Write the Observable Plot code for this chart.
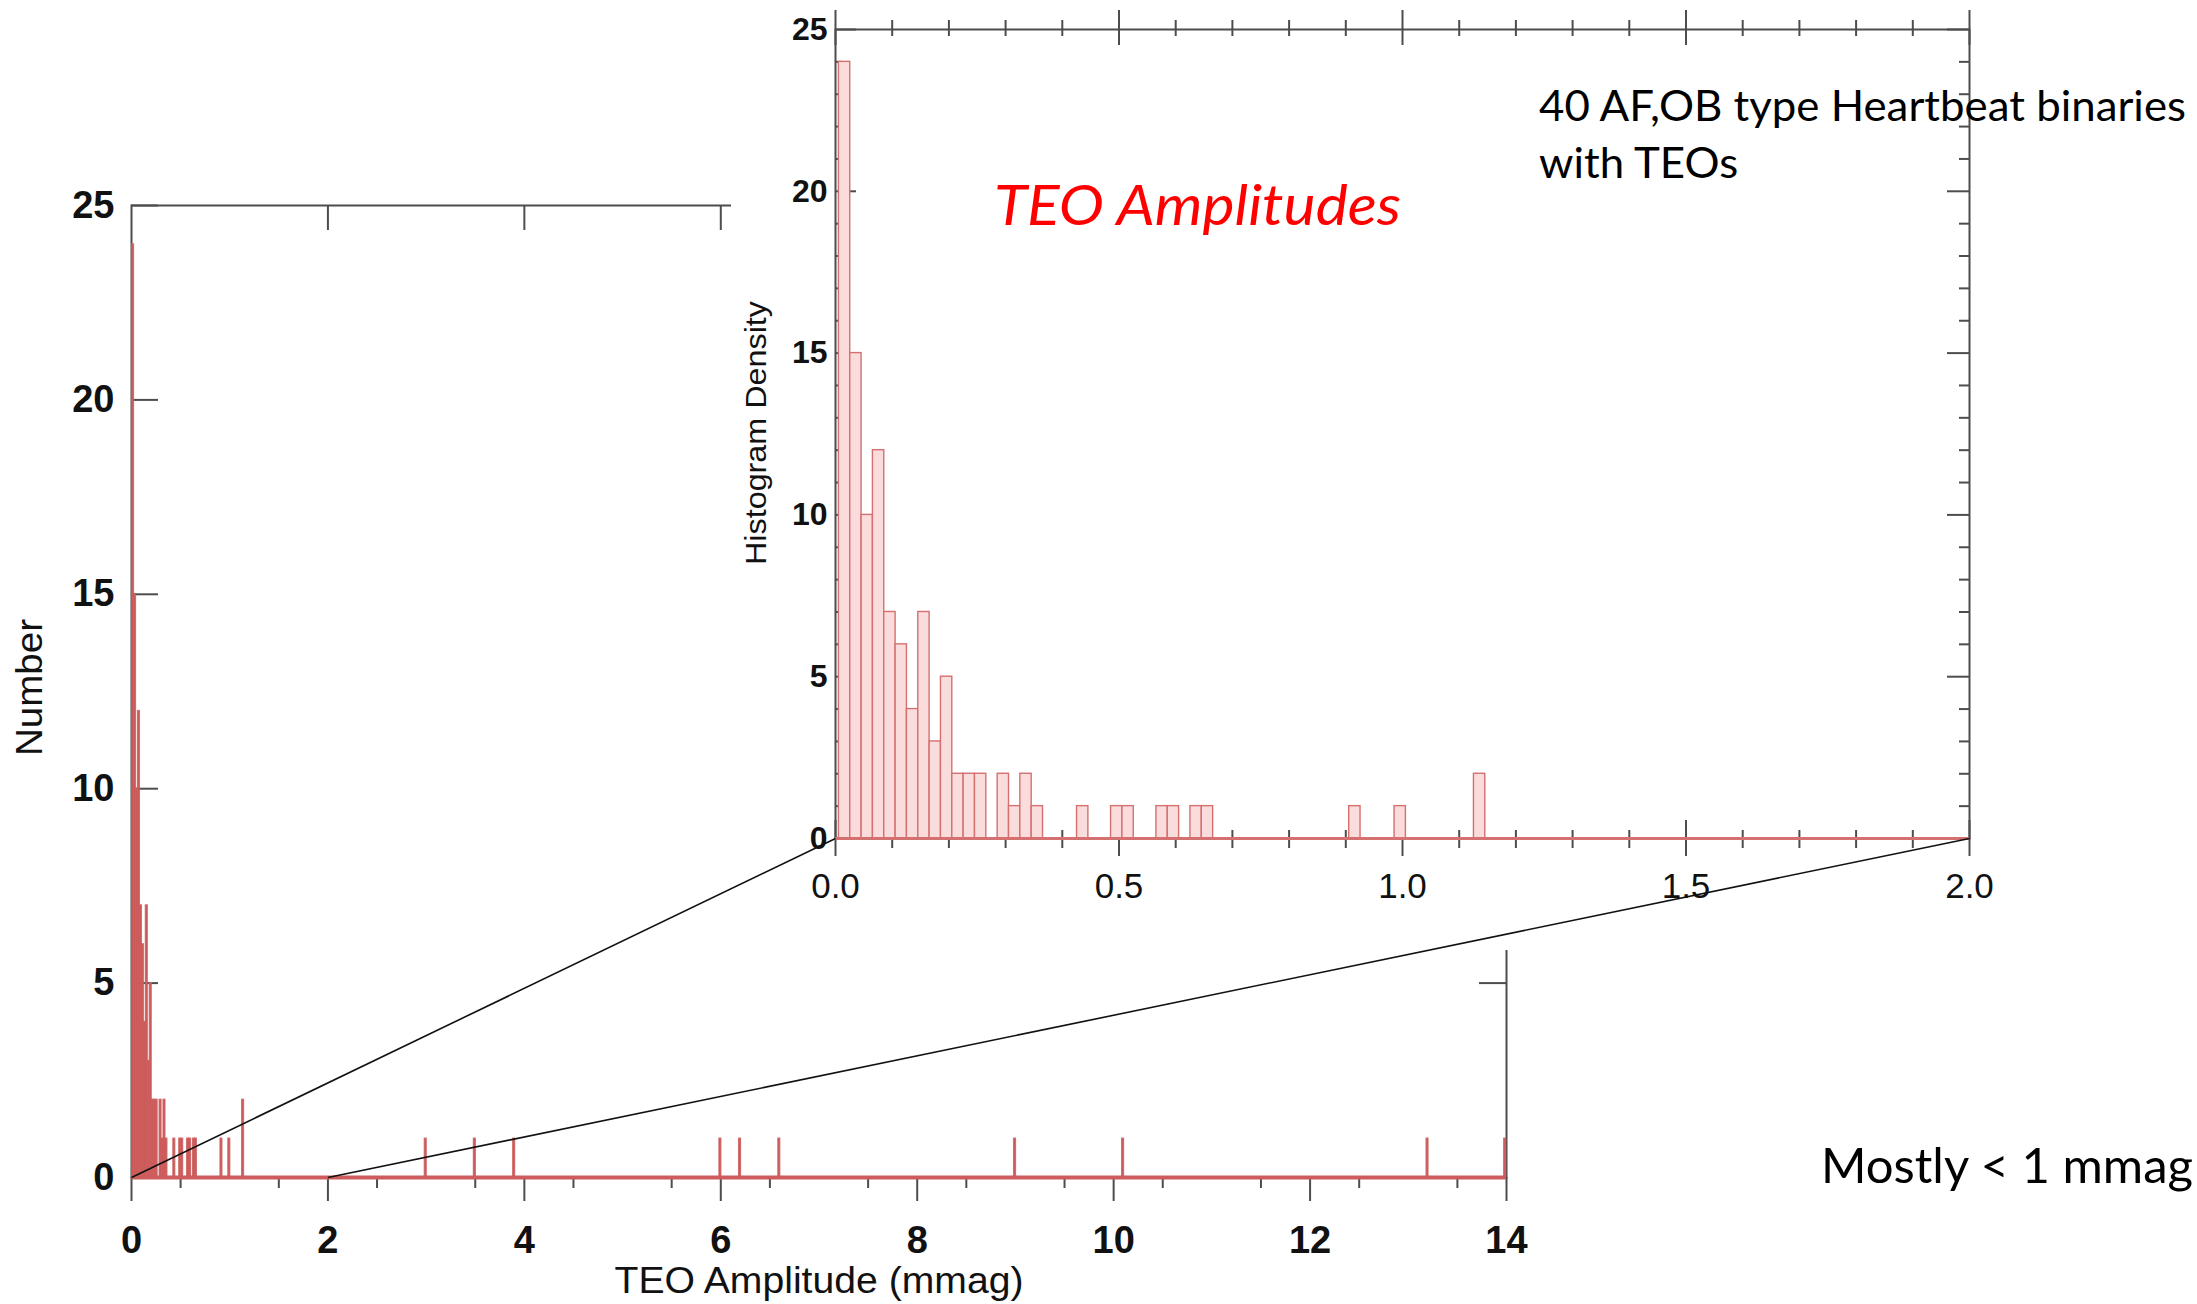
<!DOCTYPE html>
<html>
<head>
<meta charset="utf-8">
<script src="https://cdn.jsdelivr.net/npm/d3@7"></script>
<script src="https://cdn.jsdelivr.net/npm/@observablehq/plot@0.6"></script>
<style>
  html, body { margin: 0; padding: 0; background: #fff; }
  #figure { position: relative; width: 2197px; height: 1304px; overflow: hidden; background: #fff; }
  #figure > svg { position: absolute; }
  .note { position: absolute; white-space: nowrap; line-height: 1; font-family: Lato, "Open Sans", sans-serif; color: #000; transform-origin: 0 0; }
</style>
</head>
<body>
<div id="figure"></div>
<script>
// TEO amplitude histogram: number of TEOs per 0.02 mmag bin (left bin edges, mmag)
const binWidth = 0.02;
const binLeft = [
  0.006, 0.026, 0.046, 0.066, 0.086, 0.106, 0.126, 0.146, 0.166, 0.186,
  0.206, 0.226, 0.246, 0.286, 0.306, 0.326, 0.346, 0.426, 0.486, 0.506,
  0.566, 0.586, 0.626, 0.646, 0.906, 0.986, 1.126,
  2.986, 3.486, 3.886, 5.986, 6.186, 6.586, 8.986, 10.086, 13.186, 13.976
];
const binCount = [
  24, 15, 10, 12, 7, 6, 4, 7, 3, 5,
  2, 2, 2, 2, 1, 2, 1, 1, 1, 1,
  1, 1, 1, 1, 1, 1, 2,
  1, 1, 1, 1, 1, 1, 1, 1, 1, 1
];

// Axis domains and tick labels
const fullDomain = [0, 14];
const zoomDomain = [0, 2];
const countDomain = [0, 25];
const mainXTicks = [0, 2, 4, 6, 8, 10, 12, 14];
const mainYTicks = [0, 5, 10, 15, 20, 25];
const zoomXTicks = [0, 0.5, 1, 1.5, 2];
const zoomYTicks = [0, 5, 10, 15, 20, 25];

const bins = binLeft.map((x1, i) => ({x1, x2: x1 + binWidth, count: binCount[i]}));
const zoomBins = bins.filter(d => d.x1 < zoomDomain[1]);

// ---- layout (pixels) ----
const W = 2197, H = 1304;
const MAIN = {left: 131, right: 1506, top: 205, bottom: 1177};
const BOX = {left: 731, top: 0, width: W - 731, height: 950};   // zoom panel backdrop
const ZOOM = {left: 835, right: 1969, top: 29, bottom: 838};     // zoom panel frame

const AXIS = "#4d4d4d";
const RED = "#cd5c5c";
const PINK = "#fbdcdc";
const PINK_EDGE = "#d4706f";
const FONT = "'Liberation Sans', Arial, Helvetica, sans-serif";

const figure = document.getElementById("figure");

// tick helpers: lengths measured inward (into the frame) and outward
function xTicks(values, frameH, edge, inner, outer, extra = {}) {
  const inset = edge === "bottom"
    ? {insetTop: frameH - inner, insetBottom: -outer}
    : {insetTop: -outer, insetBottom: frameH - inner};
  return Plot.tickX(values, {x: d => d, stroke: AXIS, strokeWidth: 2, ...inset, ...extra});
}
function yTicks(values, frameW, edge, inner, outer, extra = {}) {
  const inset = edge === "left"
    ? {insetLeft: -outer, insetRight: frameW - inner}
    : {insetLeft: frameW - inner, insetRight: -outer};
  return Plot.tickY(values, {y: d => d, stroke: AXIS, strokeWidth: 2, ...inset, ...extra});
}
function stretchText(svg, content, length) {
  d3.select(svg).selectAll("text")
    .filter(function () { return this.textContent === content; })
    .attr("textLength", length)
    .attr("lengthAdjust", "spacingAndGlyphs");
}
function scaleOf(chart, name) {
  const s = chart.scale(name);
  return d3.scaleLinear(s.domain, s.range);
}

// vertical axis titles are start-anchored, so they are shifted down by half their length
const NUMBER_LEN = 137, DENSITY_LEN = 264;

// ---- main histogram, 0–14 mmag ----
const mainW = MAIN.right - MAIN.left, mainH = MAIN.bottom - MAIN.top;
const mainMinor = d3.range(0.5, 14, 1);
const main = Plot.plot({
  width: W, height: H,
  marginLeft: MAIN.left, marginRight: W - MAIN.right,
  marginTop: MAIN.top, marginBottom: H - MAIN.bottom,
  x: {domain: fullDomain, axis: null},
  y: {domain: countDomain, axis: null},
  style: {background: "transparent", fontFamily: FONT, color: "#000", overflow: "visible"},
  marks: [
    Plot.frame({stroke: AXIS, strokeWidth: 2}),
    xTicks(mainXTicks, mainH, "bottom", 0, 24),
    xTicks(mainMinor, mainH, "bottom", 0, 11),
    xTicks(mainXTicks.slice(1, -1), mainH, "top", 25, 0),
    yTicks(mainYTicks.slice(1), mainW, "left", 27, 0),
    yTicks(mainYTicks.slice(1), mainW, "right", 27, 0),
    Plot.rectY(bins, {x1: "x1", x2: "x2", y: "count", fill: RED, stroke: RED, strokeWidth: 1.2, strokeOpacity: 0.8}),
    Plot.ruleY([0], {stroke: RED, strokeWidth: 4}),
    Plot.text(mainXTicks, {x: d => d, text: d => String(d), frameAnchor: "bottom", dy: 63,
      lineAnchor: "middle", fontSize: 38, fontWeight: "bold", fill: "#111"}),
    Plot.text(mainYTicks, {y: d => d, text: d => String(d), frameAnchor: "left", dx: -17,
      textAnchor: "end", lineAnchor: "middle", fontSize: 38, fontWeight: "bold", fill: "#111"}),
    Plot.text(["TEO Amplitude (mmag)"], {text: d => d, frameAnchor: "bottom", dy: 104,
      lineAnchor: "middle", fontSize: 37, fill: "#111"}),
    Plot.text(["Number"], {text: d => d, frameAnchor: "left", dx: -101, dy: NUMBER_LEN / 2 - 4, rotate: -90,
      textAnchor: "start", lineAnchor: "middle", fontSize: 37, fill: "#111"})
  ]
});
main.style.left = "0px"; main.style.top = "0px";
stretchText(main, "TEO Amplitude (mmag)", 409);
stretchText(main, "Number", NUMBER_LEN);
figure.appendChild(main);

// ---- zoomed histogram, 0–2 mmag ----
const zW = ZOOM.right - ZOOM.left, zH = ZOOM.bottom - ZOOM.top;
const zoomMinorX = d3.range(0.1, 2, 0.1).filter((d, i) => (i + 1) % 5 !== 0);
const zoomMinorY = d3.range(1, 25, 1).filter(d => d % 5 !== 0);
const zoom = Plot.plot({
  width: BOX.width, height: BOX.height,
  marginLeft: ZOOM.left - BOX.left, marginRight: BOX.left + BOX.width - ZOOM.right,
  marginTop: ZOOM.top - BOX.top, marginBottom: BOX.top + BOX.height - ZOOM.bottom,
  x: {domain: zoomDomain, axis: null},
  y: {domain: countDomain, axis: null},
  style: {background: "#fff", fontFamily: FONT, color: "#000"},
  marks: [
    Plot.frame({stroke: AXIS, strokeWidth: 2}),
    xTicks(zoomXTicks, zH, "bottom", 18, 18),
    xTicks(zoomMinorX, zH, "bottom", 8, 10),
    xTicks(zoomXTicks, zH, "top", 16, 19),
    xTicks(zoomMinorX, zH, "top", 7, 9),
    yTicks(zoomYTicks, zW, "left", 21, 0),
    yTicks(zoomMinorY, zW, "left", 7, 0),
    yTicks(zoomYTicks, zW, "right", 22, 0),
    yTicks(zoomMinorY, zW, "right", 10, 0),
    Plot.rectY(zoomBins, {x1: "x1", x2: "x2", y: "count", fill: PINK, stroke: PINK_EDGE, strokeWidth: 1.4}),
    Plot.ruleY([0], {stroke: PINK_EDGE, strokeWidth: 3}),
    Plot.text(zoomXTicks, {x: d => d, text: d => d3.format(".1f")(d), frameAnchor: "bottom", dy: 48,
      lineAnchor: "middle", fontSize: 35, fill: "#111"}),
    Plot.text(zoomYTicks, {y: d => d, text: d => String(d), frameAnchor: "left", dx: -8,
      textAnchor: "end", lineAnchor: "middle", fontSize: 32, fontWeight: "bold", fill: "#111"}),
    Plot.text(["Histogram Density"], {text: d => d, frameAnchor: "left", dx: -79, dy: DENSITY_LEN / 2 - 1, rotate: -90,
      textAnchor: "start", lineAnchor: "middle", fontSize: 29, fill: "#111"})
  ]
});
zoom.style.left = BOX.left + "px"; zoom.style.top = BOX.top + "px";
stretchText(zoom, "Histogram Density", DENSITY_LEN);
figure.appendChild(zoom);

// ---- connector lines from the main axis range to the zoom panel corners ----
const mx = scaleOf(main, "x"), my = scaleOf(main, "y");
const zx = scaleOf(zoom, "x"), zy = scaleOf(zoom, "y");
const connectors = zoomDomain.map(v => ({
  x1: mx(v), y1: my(0),
  x2: BOX.left + zx(v), y2: BOX.top + zy(0)
}));
const overlay = Plot.plot({
  width: W, height: H, margin: 0,
  x: {domain: [0, W], range: [0, W], axis: null},
  y: {domain: [0, H], range: [0, H], axis: null},
  style: {background: "transparent", pointerEvents: "none"},
  marks: [
    Plot.link(connectors, {x1: "x1", y1: "y1", x2: "x2", y2: "y2", stroke: "#111", strokeWidth: 1.6})
  ]
});
overlay.style.left = "0px"; overlay.style.top = "0px";
figure.appendChild(overlay);

// ---- annotations ----
function addNote(text, {left, baseline, size, italic = false, color = "#000"}) {
  const el = document.createElement("div");
  el.className = "note";
  el.textContent = text;
  el.style.fontSize = size + "px";
  el.style.left = left + "px";
  el.style.top = (baseline - 0.887 * size) + "px";
  el.style.fontStyle = italic ? "italic" : "normal";
  el.style.color = color;
  figure.appendChild(el);
  return el;
}
function fitWidth(el, width) {
  const k = width / el.getBoundingClientRect().width;
  el.style.transform = `scaleX(${k})`;
  return k;
}
const title = addNote("TEO Amplitudes", {left: 994, baseline: 226, size: 56, italic: true, color: "#ff0000"});
fitWidth(title, 407);
const line1 = addNote("40 AF,OB type Heartbeat binaries", {left: 1539, baseline: 121, size: 43});
const k1 = fitWidth(line1, 647);
const line2 = addNote("with TEOs", {left: 1539, baseline: 178, size: 43});
line2.style.transform = `scaleX(${k1})`;
const side = addNote("Mostly < 1 mmag", {left: 1821, baseline: 1184, size: 48});
fitWidth(side, 372);
</script>
</body>
</html>
